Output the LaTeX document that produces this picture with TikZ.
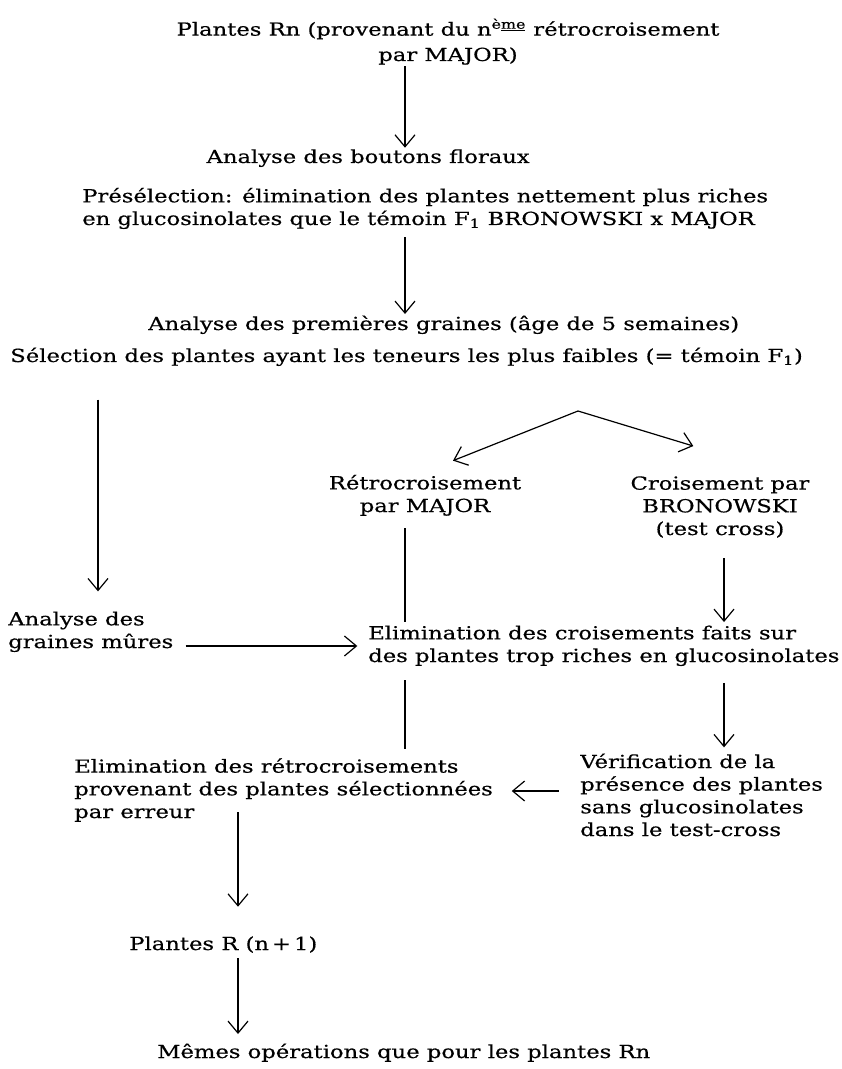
\documentclass[tikz,border=0pt]{standalone}
\usepackage{fontspec}
\setmainfont{DejaVu Serif}[FakeStretch=1.26,FakeBold=0.5]
\usetikzlibrary{arrows.meta}

\begin{document}
\begin{tikzpicture}[x=0.75pt,y=-0.75pt,
  txt/.style={inner sep=0pt,align=left,anchor=base west,font=\fontsize{13.5pt}{17pt}\selectfont},
  arr/.style={line width=0.9pt,-{Straight Barb[length=9pt,width=15pt]}},
  link/.style={line width=0.9pt}]
\useasboundingbox (0,0) rectangle (841,1069);
% texts (anchored at the baseline of their last line)
\node[txt,align=center,anchor=base] (top) at (448,61) {Plantes Rn (provenant du n\textsuperscript{è\underline{me}} rétrocroisement\\[2pt]par MAJOR)};
\node[txt,anchor=base east] (bout) at (530,163) {Analyse des boutons floraux};
\node[txt] (presel) at (82,225) {Présélection: élimination des plantes nettement plus riches\\en glucosinolates que le témoin F\textsubscript{1} BRONOWSKI x MAJOR};
\node[txt] (prem) at (148,330) {Analyse des premières graines (âge de 5 semaines)};
\node[txt] (sel) at (10,362) {Sélection des plantes ayant les teneurs les plus faibles (= témoin F\textsubscript{1})};
\node[txt,align=center,anchor=base] (retro) at (425,512) {Rétrocroisement\\par MAJOR};
\node[txt,align=center,anchor=base] (crois) at (720,535) {Croisement par\\BRONOWSKI\\(test cross)};
\node[txt] (mures) at (8,648) {Analyse des\\graines mûres};
\node[txt] (elim) at (368,662) {Elimination des croisements faits sur\\des plantes trop riches en glucosinolates};
\node[txt] (verif) at (580,836) {Vérification de la\\présence des plantes\\sans glucosinolates\\dans le test-cross};
\node[txt] (elimr) at (74,818) {Elimination des rétrocroisements\\provenant des plantes sélectionnées\\par erreur};
\node[txt] (rn1) at (129,950) {Plantes R (n\,+\,1)};
\node[txt] (memes) at (157,1058) {Mêmes opérations que pour les plantes Rn};
% columns of the arrows
\coordinate (spine) at (405,0);
\coordinate (left) at (98,0);
\coordinate (right) at (724,0);
\coordinate (low) at (238,0);
\coordinate (fork) at (578,411);
\coordinate (hy) at (0,646);
\coordinate (ly) at (0,791);
\coordinate (k1) at (238,812);
% arrows
\draw[arr,shorten <=1pt,shorten >=1pt] (top.south -| spine) -- (spine |- bout.north);
\draw[arr,shorten <=6pt,shorten >=1pt] (presel.south -| spine) -- (spine |- prem.north);
\draw[arr,shorten <=25pt,shorten >=15pt] (sel.south -| left) -- (left |- mures.north);
\draw[arr] (fork) -- ([xshift=21pt,yshift=10.5pt]retro.north);
\draw[arr] (fork) -- ([xshift=-20pt,yshift=22.5pt]crois.north);
\draw[link,shorten <=9pt,shorten >=2.5pt] (retro.south -| spine) -- (spine |- elim.north);
\draw[arr,shorten <=15pt,shorten >=2.5pt] (crois.south -| right) -- (right |- elim.north);
\draw[arr,shorten <=9pt,shorten >=8pt] (mures.east |- hy) -- (elim.west |- hy);
\draw[link,shorten <=10.5pt,shorten >=6.5pt] (elim.south -| spine) -- (spine |- elimr.north);
\draw[arr,shorten <=12.5pt,shorten >=4.5pt] (elim.south -| right) -- (right |- verif.north);
\draw[arr,shorten <=16pt,shorten >=14pt] (verif.west |- ly) -- (elimr.east |- ly);
\draw[arr,shorten >=22pt] (k1) -- (k1 |- rn1.north);
\draw[arr,shorten <=4pt,shorten >=7pt] (rn1.south -| low) -- (low |- memes.north);
\end{tikzpicture}
\end{document}
